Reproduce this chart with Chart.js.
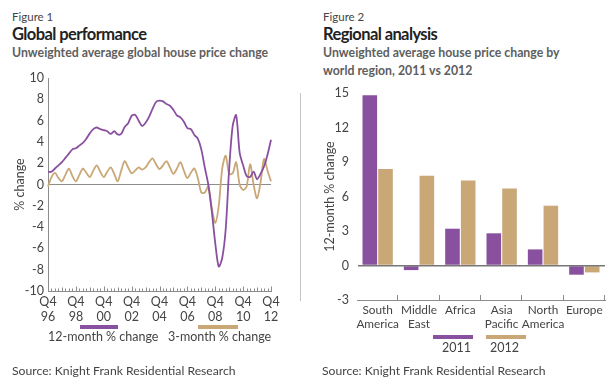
<!DOCTYPE html>
<html>
<head>
<meta charset="utf-8">
<script src="https://cdn.jsdelivr.net/npm/chart.js@4.4.1/dist/chart.umd.min.js"></script>
<style>
  html, body { margin:0; padding:0; background:#fff; }
  body { width:610px; height:385px; position:relative; overflow:hidden; font-family:'Lato','Noto Sans',sans-serif; color:#333; }
  .abs { position:absolute; white-space:nowrap; }
  .fig { font-size:11.5px; color:#444; }
  .ttl { font-size:16.5px; font-weight:bold; color:#222; letter-spacing:-0.6px; }
  .sub { font-size:12.3px; font-weight:bold; color:#5e5e5e; line-height:18px; }
  .src { font-size:12.2px; color:#444; }
  .sw { position:absolute; height:4px; }
  .lg { font-family:'Lato',sans-serif; font-size:12.5px; color:#444; }
  canvas { position:absolute; }
</style>
</head>
<body>
<div class="abs fig" style="left:12px;top:10px;">Figure 1</div>
<div class="abs ttl" style="left:12px;top:24px;">Global performance</div>
<div class="abs sub" style="left:12px;top:44px;">Unweighted average global house price change</div>

<div class="abs fig" style="left:323px;top:10px;">Figure 2</div>
<div class="abs ttl" style="left:323px;top:24px;">Regional analysis</div>
<div class="abs sub" style="left:323px;top:44px;">Unweighted average house price change by<br>world region, 2011 vs 2012</div>

<div style="position:absolute;left:0;top:60px;width:300px;height:270px;"><canvas id="c1" width="300" height="270"></canvas></div>
<div style="position:absolute;left:300px;top:60px;width:310px;height:270px;"><canvas id="c2" width="310" height="270"></canvas></div>

<div class="sw" style="left:80px;top:325px;width:38px;background:#8a50a0;"></div>
<div class="sw" style="left:198px;top:325px;width:40px;background:#c9a776;"></div>
<div class="abs lg" style="left:48px;top:329px;">12-month % change</div>
<div class="abs lg" style="left:168px;top:329px;">3-month % change</div>

<div class="sw" style="left:433px;top:335px;width:40px;background:#8a50a0;"></div>
<div class="sw" style="left:486px;top:335px;width:40px;background:#c9a776;"></div>
<div class="abs lg" style="left:442px;top:340px;">2011</div>
<div class="abs lg" style="left:490px;top:340px;">2012</div>

<div class="abs src" style="left:12px;top:363px;">Source: Knight Frank Residential Research</div>
<div class="abs src" style="left:322px;top:363px;">Source: Knight Frank Residential Research</div>

<script>
// ---------- Figure 1 data (quarterly, Q4 1996 – Q4 2012) ----------
const startYear = 1996;
const quarters = [];
for (let i = 0; i <= 64; i++) {
  const q = ((3 + i) % 4) + 1;
  const y = startYear + Math.floor((3 + i) / 4);
  quarters.push('Q' + q + ' ' + y);
}
const twelveMonth = [1.2,1.2,1.5,1.8,2.1,2.5,2.9,3.3,3.4,3.65,3.9,4.3,4.8,5.2,5.35,5.2,
  5.1,5.0,4.75,5.0,4.7,4.75,5.4,5.75,6.45,6.55,6.0,5.5,5.8,6.35,7.1,7.75,
  7.87,7.8,7.55,7.4,7.0,6.5,6.3,5.9,5.3,5.2,4.65,4.3,3.3,1.6,0.0,-2.5,
  -5.5,-7.7,-6.9,-4.2,1.5,5.5,6.5,3.0,1.8,0.8,0.7,1.2,0.5,1.0,1.7,2.8,4.2];
const threeMonth = [-0.2,0.7,1.1,0.6,0.3,0.9,1.5,0.8,0.3,0.9,1.5,1.1,0.7,1.3,1.8,1.2,
  0.7,1.2,1.6,1.0,0.3,1.3,2.2,1.6,1.05,1.3,1.6,1.4,1.6,2.1,2.45,1.9,
  1.45,1.8,2.2,1.6,1.0,1.5,2.1,1.3,0.6,1.1,1.5,0.6,-0.75,-0.75,-0.2,-2.2,
  -3.6,-2.0,1.5,2.7,1.0,1.05,2.1,0.0,-0.5,-0.2,1.9,0.0,-1.3,0.2,2.4,1.3,0.3];
const yTicks1 = [-10,-8,-6,-4,-2,0,2,4,6,8,10];

// ---------- Figure 2 data ----------
const regions = [['South','America'],['Middle','East'],'Africa',['Asia','Pacific'],['North','America'],'Europe'];
const y2011 = [14.8,-0.4,3.2,2.8,1.4,-0.8];
const y2012 = [8.4,7.8,7.4,6.7,5.2,-0.6];
const yTicks2 = [-3,0,3,6,9,12,15];

const PURPLE = '#8a50a0';
const GOLD = '#c9a776';
const AXIS = '#8c8c8c';
const TXT = '#444';
const tickFont = { family: "'Lato', sans-serif", size: 12.5 };
const catFont = { family: "'Lato', sans-serif", size: 11.8 };

// plugin: inward (upward) tick marks on the bottom axis
const innerTicks = {
  id: 'innerTicks',
  afterDraw(chart, args, opts) {
    const xs = chart.scales.x, ctx = chart.ctx;
    const bottom = chart.chartArea.bottom;
    ctx.save();
    ctx.strokeStyle = AXIS;
    ctx.lineWidth = 1;
    if (opts.mode === 'line') {
      for (let i = 0; i < quarters.length; i++) {
        const x = Math.round(xs.getPixelForValue(i)) + 0.5;
        const len = (i % 8 === 0) ? 4.5 : (i % 4 === 0 ? 3.5 : 2.5);
        ctx.beginPath(); ctx.moveTo(x, bottom); ctx.lineTo(x, bottom - len); ctx.stroke();
      }
    } else {
      const n = regions.length;
      const w = (xs.getPixelForValue(1) - xs.getPixelForValue(0));
      for (let i = 0; i < n; i++) {
        const x = Math.round(xs.getPixelForValue(i) + w / 2) - 0.5;
        ctx.beginPath(); ctx.moveTo(x, bottom); ctx.lineTo(x, bottom - 5); ctx.stroke();
      }
    }
    ctx.restore();
  }
};

new Chart(document.getElementById('c1'), {
  type: 'line',
  data: {
    labels: quarters,
    datasets: [
      { label: '3-month % change', data: threeMonth, borderColor: GOLD, borderWidth: 1.8, pointRadius: 0, tension: 0.3, order: 2 },
      { label: '12-month % change', data: twelveMonth, borderColor: PURPLE, borderWidth: 1.8, pointRadius: 0, tension: 0.3, order: 1 }
    ]
  },
  options: {
    responsive: false, animation: false,
    layout: { padding: { top: 18, right: 29, left: 0, bottom: 0 } },
    plugins: { legend: { display: false }, tooltip: { enabled: false }, innerTicks: { mode: 'line' } },
    scales: {
      x: {
        type: 'category', offset: false,
        grid: { display: false, drawTicks: false },
        border: { display: true, color: AXIS, width: 1 },
        ticks: {
          autoSkip: false, maxRotation: 0, minRotation: 0, padding: 3, color: TXT, font: tickFont,
          callback: function(v, i) { return i % 8 === 0 ? ['Q4', String((startYear + i / 4) % 100).padStart(2, '0')] : ''; }
        },
        afterFit: s => { s.height = 39; }
      },
      y: {
        min: -10, max: 10,
        afterBuildTicks: s => { s.ticks = yTicks1.map(v => ({ value: v })); },
        grid: { drawTicks: false, color: c => c.tick && c.tick.value === 0 ? AXIS : 'rgba(0,0,0,0)', lineWidth: 1 },
        border: { display: true, color: AXIS, width: 1 },
        ticks: { padding: 4, color: TXT, font: tickFont },
        title: { display: true, text: '% change', color: TXT, font: tickFont, padding: { top: 12, bottom: 0 } },
        afterFit: s => { s.width = 48; }
      }
    }
  },
  plugins: [innerTicks]
});

new Chart(document.getElementById('c2'), {
  type: 'bar',
  data: {
    labels: regions,
    datasets: [
      { label: '2011', data: y2011, backgroundColor: PURPLE, categoryPercentage: 0.76, barPercentage: 0.93 },
      { label: '2012', data: y2012, backgroundColor: GOLD, categoryPercentage: 0.76, barPercentage: 0.93 }
    ]
  },
  options: {
    responsive: false, animation: false,
    layout: { padding: { top: 33, right: 5, left: 0, bottom: 0 } },
    plugins: { legend: { display: false }, tooltip: { enabled: false }, innerTicks: { mode: 'bar' } },
    scales: {
      x: {
        grid: { display: false, drawTicks: false },
        border: { display: true, color: AXIS, width: 1 },
        ticks: { autoSkip: false, maxRotation: 0, minRotation: 0, padding: 3, color: TXT, font: catFont },
        afterFit: s => { s.height = 30; }
      },
      y: {
        min: -3, max: 15,
        afterBuildTicks: s => { s.ticks = yTicks2.map(v => ({ value: v })); },
        grid: { drawTicks: false, color: c => c.tick && c.tick.value === 0 ? '#777' : 'rgba(0,0,0,0)', lineWidth: c => c.tick && c.tick.value === 0 ? 1.5 : 1, z: 1 },
        border: { display: true, color: AXIS, width: 1 },
        ticks: { padding: 8, color: TXT, font: tickFont },
        title: { display: true, text: '12-month % change', color: TXT, font: tickFont, padding: { top: 22, bottom: 0 } },
        afterFit: s => { s.width = 57; }
      }
    }
  },
  plugins: [innerTicks]
});
</script>
</body>
</html>
